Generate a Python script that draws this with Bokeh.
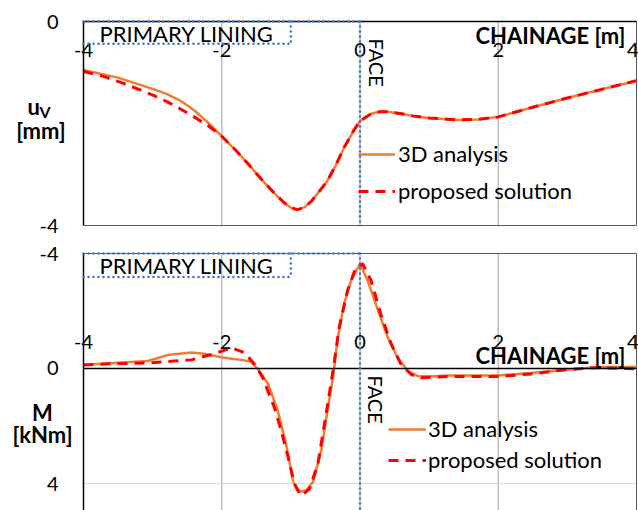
import math
from bokeh.plotting import figure
from bokeh.models import Range1d, FixedTicker, Label, Legend, LegendItem
from bokeh.layouts import column
from bokeh.embed import file_html
from bokeh.resources import INLINE

# ---------------- data ----------------
x_ticks = [-4, -2, 0, 2, 4]
uv_ticks = [-4, 0]
m_ticks = [-4, 0, 4]

# vertical displacement u_V [mm]
uv_x_3d = [-4.0, -3.5, -3.0, -2.8, -2.6, -2.4, -2.2, -2.0, -1.8, -1.6, -1.43, -1.25, -1.1, -1.0,
           -0.9, -0.8, -0.7, -0.6, -0.47, -0.35, -0.23, -0.1, 0.0, 0.16, 0.28, 0.4, 0.6, 0.8,
           1.0, 1.4, 1.7, 2.0, 2.5, 3.0, 3.5, 4.0]
uv_3d = [-0.95, -1.10, -1.32, -1.42, -1.55, -1.74, -1.98, -2.25, -2.52, -2.82, -3.09, -3.35, -3.55, -3.65,
         -3.69, -3.64, -3.52, -3.35, -3.12, -2.82, -2.47, -2.16, -1.95, -1.81, -1.77, -1.77, -1.81, -1.86,
         -1.89, -1.93, -1.92, -1.87, -1.68, -1.50, -1.33, -1.16]
uv_x_prop = [-4.0, -3.7, -3.45, -3.2, -2.97, -2.78, -2.59, -2.4, -2.2, -2.0, -1.8, -1.6, -1.43, -1.25,
             -1.1, -1.0, -0.9, -0.8, -0.7, -0.6, -0.47, -0.35, -0.23, -0.1, 0.0, 0.16, 0.28, 0.4,
             0.6, 0.8, 1.0, 1.4, 1.7, 2.0, 2.5, 3.0, 3.5, 4.0]
uv_prop = [-0.98, -1.08, -1.20, -1.33, -1.46, -1.58, -1.72, -1.87, -2.04, -2.25, -2.52, -2.82, -3.09, -3.35,
           -3.55, -3.65, -3.69, -3.64, -3.52, -3.35, -3.12, -2.82, -2.47, -2.16, -1.95, -1.81, -1.77, -1.77,
           -1.81, -1.86, -1.89, -1.93, -1.92, -1.87, -1.68, -1.50, -1.33, -1.16]

# bending moment M [kNm]
m_x_3d = [-4.0, -3.55, -3.07, -2.78, -2.44, -2.25, -2.01, -1.86, -1.72, -1.58, -1.48, -1.33, -1.19,
          -1.07, -0.97, -0.90, -0.78, -0.68, -0.56, -0.47, -0.39, -0.32, -0.23, -0.13, 0.0,
          0.11, 0.26, 0.40, 0.54, 0.69, 0.83, 1.03, 1.27, 1.99, 2.47, 2.95, 3.43, 4.0]
m_3d = [-0.13, -0.19, -0.26, -0.47, -0.56, -0.51, -0.39, -0.34, -0.30, -0.24, 0.01, 0.53, 1.46,
        2.62, 3.90, 4.30, 4.24, 3.95, 2.85, 1.46, 0.30, -1.09, -2.25, -3.06, -3.64,
        -3.06, -2.02, -1.09, -0.39, 0.08, 0.26, 0.28, 0.24, 0.24, 0.16, 0.05, -0.05, -0.05]
m_x_prop = [-4.0, -3.55, -3.07, -2.73, -2.44, -2.11, -1.86, -1.67, -1.53, -1.41, -1.24, -1.14,
            -1.04, -0.95, -0.85, -0.73, -0.61, -0.49, -0.39, -0.30, -0.18, -0.06, 0.04, 0.16,
            0.30, 0.45, 0.59, 0.74, 0.88, 1.27, 1.99, 2.47, 2.95, 3.43, 4.0]
m_prop = [-0.12, -0.17, -0.19, -0.25, -0.30, -0.51, -0.72, -0.55, -0.16, 0.30, 1.35, 2.16,
          3.08, 4.01, 4.42, 4.19, 3.32, 1.58, 0.07, -1.44, -2.71, -3.52, -3.64, -3.06,
          -1.90, -0.86, -0.16, 0.21, 0.32, 0.28, 0.28, 0.19, 0.05, -0.03, 0.01]

FACE_X = 0
LINING_START = -4
LINING_BOX_END = -1.0

# ---------------- style ----------------
FONT = "Lato"
ORANGE = "#ED7D31"
RED = "#FF0000"
BLUE = "#4472C4"
TXT = "#000000"
BORDER = "#595959"
GRID = "#bfbfbf"
DOTS = dict(line_color=BLUE, line_width=2.6, line_dash="0 5", line_cap="round")

X_LO, X_HI = -4, 4
# view extents (canvas is the frame; ranges chosen so -4..4 sits at 83..636 px)
XV = (-5.2007, 4.0289)
UV_VIEW = (-4.294, 0.4118)          # top panel (y up)
M_VIEW = (4.939, -4.452)            # bottom panel (reversed)
M_BOTTOM = 4.939


def base_fig(height, y_range, x_loc, y_bounds):
    p = figure(width=638, height=height, output_backend="svg", toolbar_location=None,
               x_range=Range1d(*XV), y_range=y_range, x_axis_location=x_loc,
               min_border_left=0, min_border_right=0, min_border_top=0,
               min_border_bottom=0)
    p.outline_line_color = None
    p.background_fill_color = "white"
    p.border_fill_color = "white"
    p.grid.visible = False
    xa = p.xaxis[0]
    xa.ticker = FixedTicker(ticks=x_ticks)
    xa.major_label_overrides = {t: str(t) for t in x_ticks}
    xa.fixed_location = 0
    xa.bounds = (X_LO, X_HI)
    xa.major_tick_in = 0
    xa.major_tick_out = 0
    xa.minor_tick_line_color = None
    xa.axis_line_color = "black"
    xa.axis_line_width = 1.5
    xa.major_label_text_font = FONT
    xa.major_label_text_font_size = "20px"
    xa.major_label_text_color = TXT
    ya = p.yaxis[0]
    ya.fixed_location = X_LO
    ya.bounds = y_bounds
    ya.major_tick_in = 0
    ya.major_tick_out = 0
    ya.minor_tick_line_color = None
    ya.axis_line_color = "black"
    ya.axis_line_width = 1.5
    ya.major_label_standoff = 25
    ya.major_label_text_font = FONT
    ya.major_label_text_font_size = "20px"
    ya.major_label_text_color = TXT
    return p


def frame_lines(p, y_a, y_b, hgrid=None):
    inner = [t for t in x_ticks if X_LO < t < X_HI]
    p.segment(x0=inner, y0=[y_a] * len(inner), x1=inner, y1=[y_b] * len(inner),
              line_color=GRID, line_width=1.5)
    if hgrid is not None:
        p.segment(x0=[X_LO] * len(hgrid), y0=hgrid, x1=[X_HI] * len(hgrid), y1=hgrid,
                  line_color="#d9d9d9", line_width=1)
    # right border and horizontal border (the one not drawn by an axis)
    p.segment(x0=[X_HI], y0=[y_a], x1=[X_HI], y1=[y_b], line_color=BORDER, line_width=1)
    p.segment(x0=[X_LO], y0=[y_a], x1=[X_HI], y1=[y_a], line_color=BORDER, line_width=1)


def decorate(p, top_y, bot_y, box_bottom, lining_yoff, face_xoff, face_yoff, ch_yoff):
    # face line
    p.segment(x0=[FACE_X], y0=[top_y], x1=[FACE_X], y1=[bot_y], level="overlay", **DOTS)
    # primary lining
    p.segment(x0=[LINING_START], y0=[top_y], x1=[FACE_X], y1=[top_y], level="overlay", **DOTS)
    p.segment(x0=[LINING_START, LINING_BOX_END], y0=[box_bottom, top_y],
              x1=[LINING_BOX_END, LINING_BOX_END], y1=[box_bottom, box_bottom],
              level="overlay", **DOTS)
    p.add_layout(Label(x=LINING_START, y=top_y, x_offset=16, y_offset=lining_yoff,
                       text="PRIMARY LINING", text_font=FONT, text_font_size="22px",
                       text_color=TXT, text_baseline="middle"))
    p.add_layout(Label(x=FACE_X, y=0, x_offset=face_xoff, y_offset=face_yoff,
                       text="FACE", angle=-math.pi / 2, text_font=FONT,
                       text_font_size="20px", text_color=TXT,
                       text_baseline="middle", text_align="left"))
    p.add_layout(Label(x=X_HI, y=0, x_offset=-11, y_offset=ch_yoff,
                       text="CHAINAGE [m]", text_font=FONT, text_font_size="22px",
                       text_font_style="bold", text_color=TXT,
                       text_align="right", text_baseline="middle"))


def add_legend(p, r1, r2, loc, spacing, gw, standoff):
    leg = Legend(items=[LegendItem(label="3D analysis", renderers=[r1]),
                        LegendItem(label="proposed solution", renderers=[r2])],
                 location=loc, orientation="vertical", padding=0, margin=0,
                 spacing=spacing, glyph_width=gw, glyph_height=20, label_height=20,
                 label_standoff=standoff, border_line_color=None,
                 background_fill_alpha=0, label_text_font=FONT,
                 label_text_font_size="22px", label_text_color=TXT)
    p.add_layout(leg, "center")


def ylabel(p, y, text, xoff, yoff, size="22px", align="center"):
    p.add_layout(Label(x=X_LO, y=y, x_offset=xoff, y_offset=yoff, text=text,
                       text_font=FONT, text_font_size=size, text_font_style="bold",
                       text_color=TXT, text_baseline="middle", text_align=align))


# ---------------- top panel: u_V ----------------
p1 = base_fig(240, Range1d(*UV_VIEW), "below", (uv_ticks[0], uv_ticks[-1]))
p1.yaxis[0].ticker = FixedTicker(ticks=uv_ticks)
p1.yaxis[0].major_label_overrides = {t: str(t) for t in uv_ticks}
p1.xaxis[0].major_label_standoff = 21
frame_lines(p1, uv_ticks[0], uv_ticks[-1])

r1a = p1.line(uv_x_3d, uv_3d, line_color=ORANGE, line_width=2.5, line_join="round")
r1b = p1.line(uv_x_prop, uv_prop, line_color=RED, line_width=3, line_dash="10 7")
decorate(p1, 0, -4, -0.437, -11.5, 17, -17, -13.5)
add_legend(p1, r1a, r1b, (358, 36), 10, 37, 3)

ylabel(p1, 0, "u", -56, -84.5, size="22px", align="left")
ylabel(p1, 0, "V", -44, -89.5, size="16px", align="left")
ylabel(p1, 0, "[mm]", -42.5, -109)

# ---------------- bottom panel: M ----------------
p2 = base_fig(270, Range1d(*M_VIEW), "above", (m_ticks[0], M_BOTTOM))
p2.yaxis[0].ticker = FixedTicker(ticks=m_ticks)
p2.yaxis[0].major_label_overrides = {t: str(t) for t in m_ticks}
p2.xaxis[0].major_label_standoff = 19
frame_lines(p2, m_ticks[0], M_BOTTOM, hgrid=[m_ticks[-1]])

r2a = p2.line(m_x_3d, m_3d, line_color=ORANGE, line_width=2.5, line_join="round")
r2b = p2.line(m_x_prop, m_prop, line_color=RED, line_width=3, line_dash="10 7")
decorate(p2, -4, M_BOTTOM, -3.18, -12, 15.5, -7, 13)
add_legend(p2, r2a, r2b, (388, 37), 4, 38, 2)

ylabel(p2, -4, "M", -41, -159)
ylabel(p2, -4, "[kNm]", -41, -181)

layout = column(p1, p2, spacing=0)
open("out.html", "w").write(file_html(layout, INLINE))
